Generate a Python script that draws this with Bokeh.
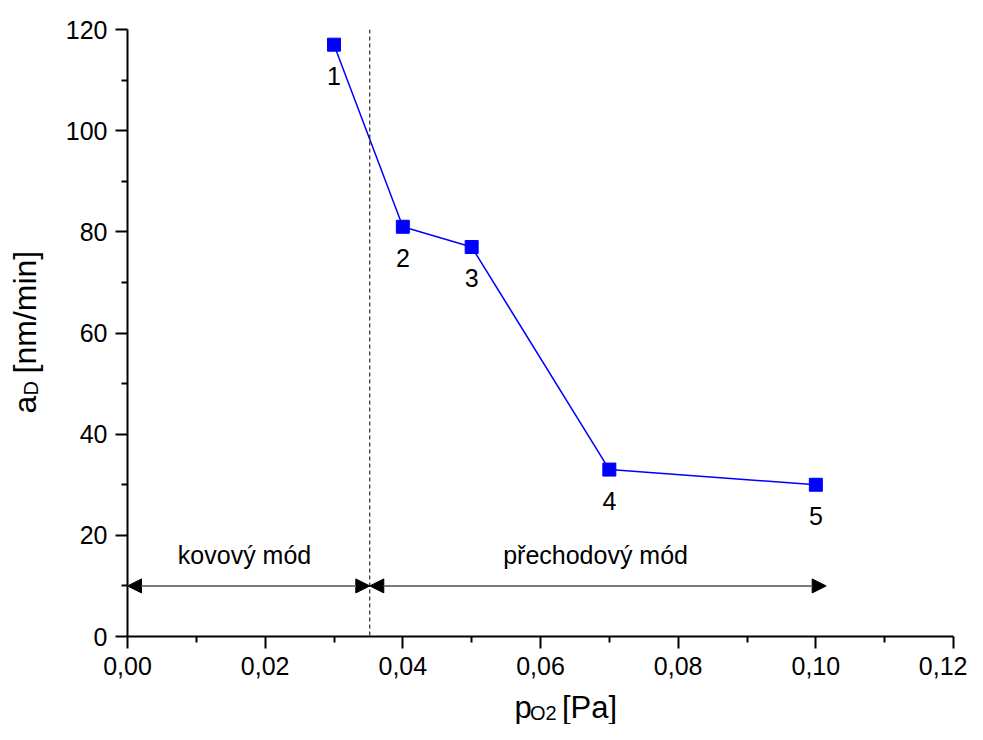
import math
from bokeh.plotting import figure
from bokeh.layouts import row, column
from bokeh.models import (Range1d, FixedTicker, Span, Arrow, NormalHead,
                          ColumnDataSource)
from bokeh.core.properties import value
from bokeh.embed import file_html
from bokeh.resources import INLINE

# ---- data ----
pressure = [0.03, 0.04, 0.05, 0.07, 0.10]
rate = [117, 81, 77, 33, 30]
point_labels = ["1", "2", "3", "4", "5"]

x_ticks = [0.00, 0.02, 0.04, 0.06, 0.08, 0.10, 0.12]
x_tick_labels = ["0,00", "0,02", "0,04", "0,06", "0,08", "0,10", "0,12"]
x_minor = [0.01, 0.03, 0.05, 0.07, 0.09, 0.11]
y_ticks = [0, 20, 40, 60, 80, 100, 120]
y_minor = [10, 30, 50, 70, 90, 110]

boundary = 0.0352
arrow_y = 10
arrow_end = 0.1015
mode_labels = ["kovový mód", "přechodový mód"]
mode_x = [0.0170, 0.0680]
mode_y = [16.2, 16.2]

x_label_parts = ["p", "O2", "[Pa]"]
y_label_parts = ["a", "D", "[nm/min]"]

FONT = "Liberation Sans"
YLAB_W = 60
MAIN_W = 907
MAIN_H = 690
XLAB_H = 34
TOTAL_H = MAIN_H + XLAB_H

p = figure(width=MAIN_W, height=MAIN_H, output_backend="svg", toolbar_location=None,
           x_range=Range1d(0, 0.12), y_range=Range1d(0, 120),
           min_border_left=67, min_border_right=14, min_border_top=29,
           min_border_bottom=MAIN_H - 29 - 607, frame_width=826, frame_height=607)
p.outline_line_color = None
p.xgrid.visible = False
p.ygrid.visible = False

for ax in (p.xaxis[0], p.yaxis[0]):
    ax.axis_line_width = 2
    ax.major_tick_line_width = 2
    ax.minor_tick_line_width = 2
    ax.major_tick_out = 12
    ax.major_tick_in = 0
    ax.minor_tick_out = 6
    ax.minor_tick_in = 0
    ax.major_label_text_font = FONT
    ax.major_label_text_font_size = "25px"
    ax.major_label_text_color = "black"
    ax.axis_line_color = "black"
    ax.major_tick_line_color = "black"
    ax.minor_tick_line_color = "black"
    ax.major_label_standoff = 8

p.xaxis[0].ticker = FixedTicker(ticks=x_ticks, minor_ticks=x_minor)
p.xaxis[0].major_label_overrides = {t: l for t, l in zip(x_ticks, x_tick_labels)}
p.yaxis[0].ticker = FixedTicker(ticks=y_ticks, minor_ticks=y_minor)
p.yaxis[0].major_label_overrides = {t: str(t) for t in y_ticks}

# boundary dashed line
p.add_layout(Span(location=boundary, dimension="height", line_color="black",
                  line_width=1, line_dash="4 3"))

# arrows
def head():
    return NormalHead(size=14, fill_color="black", line_color="black", line_width=1)

p.add_layout(Arrow(start=head(), end=head(), x_start=0, y_start=arrow_y,
                   x_end=boundary, y_end=arrow_y, line_color="#7a7a7a", line_width=2))
p.add_layout(Arrow(start=head(), end=head(), x_start=boundary, y_start=arrow_y,
                   x_end=arrow_end, y_end=arrow_y, line_color="#7a7a7a", line_width=2))

# mode labels
p.text(x=mode_x, y=mode_y, text=mode_labels, text_font=value(FONT),
       text_font_size="25px", text_align="center", text_baseline="alphabetic",
       text_color="black")

# data
src = ColumnDataSource(dict(x=pressure, y=rate, lab=point_labels))
p.line("x", "y", source=src, line_color="#0000ff", line_width=1.5)
p.scatter("x", "y", source=src, marker="square", size=13, fill_color="#0000ff",
          line_color="#0000ff")
p.text("x", "y", text="lab", source=src, text_font=value(FONT), text_font_size="25px",
       text_align="center", text_baseline="alphabetic", y_offset=31, text_color="black")


def blank(w, h):
    f = figure(width=w, height=h, output_backend="svg", toolbar_location=None,
               x_range=Range1d(0, w), y_range=Range1d(0, h), min_border=0,
               x_axis_location=None, y_axis_location=None)
    f.outline_line_color = None
    f.xgrid.visible = False
    f.ygrid.visible = False
    return f


# x axis label  (p_O2 [Pa]) in its own strip below the plot
xl = blank(MAIN_W, XLAB_H)
xl.text(x=[425, 477], y=[17, 17], text=[x_label_parts[0], x_label_parts[2]],
        text_font=value(FONT), text_font_size="31px", text_baseline="alphabetic",
        text_align="left", text_color="black")
xl.text(x=[442], y=[12], text=[x_label_parts[1]], text_font=value(FONT),
        text_font_size="20px", text_baseline="alphabetic", text_align="left",
        text_color="black")

# y axis label  (a_D [nm/min]) rotated, in its own strip at the left
yl = blank(YLAB_W, TOTAL_H)
a = math.pi / 2
yl.text(x=[24, 24], y=[TOTAL_H - 413, TOTAL_H - 373],
        text=[y_label_parts[0], y_label_parts[2]], angle=a,
        text_font=value(FONT), text_font_size="32px", text_baseline="alphabetic",
        text_align="left", text_color="black")
yl.text(x=[30], y=[TOTAL_H - 395], text=[y_label_parts[1]], angle=a,
        text_font=value(FONT), text_font_size="20px", text_baseline="alphabetic",
        text_align="left", text_color="black")

layout = row(yl, column(p, xl, spacing=0), spacing=0)

open("out.html", "w").write(file_html(layout, INLINE))
